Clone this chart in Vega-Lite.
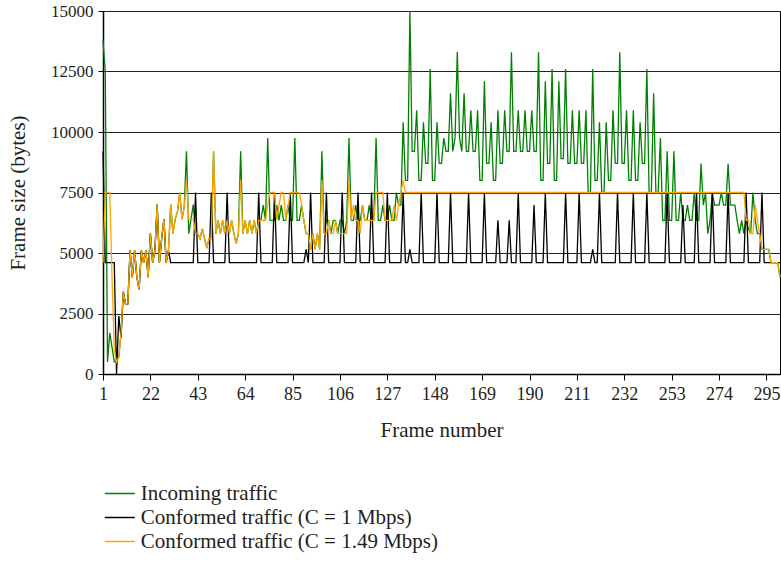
{
"$schema": "https://vega.github.io/schema/vega-lite/v6.json",
"width": 677, "height": 363,
"autosize": {"type": "none"},
"padding": {"left": 103, "top": 11, "right": 1, "bottom": 187},
"background": "white",
"config": {
 "font": "Liberation Serif",
 "view": {"stroke": "#000", "strokeWidth": 1},
 "axis": {"labelFont": "Liberation Serif", "titleFont": "Liberation Serif", "labelColor": "#231f20", "titleColor": "#231f20", "titleFontWeight": "normal", "domainColor": "#000", "tickColor": "#000"},
 "legend": {"labelFont": "Liberation Serif", "labelColor": "#231f20"}
},
"data": {"values": [
{"f":1,"a":13800,"b":9200,"c":4600},{"f":2,"a":12500,"b":4600,"c":7500},{"f":3,"a":500,"b":4600,"c":7500},{"f":4,"a":1700,"b":4600,"c":7500},{"f":5,"a":1100,"b":4600,"c":4000},
{"f":6,"a":500,"b":4600,"c":1000},{"f":7,"a":500,"b":0,"c":500},{"f":8,"a":700,"b":2400,"c":700},{"f":9,"a":1700,"b":1500,"c":1700},{"f":10,"a":3400,"b":3400,"c":3400},
{"f":11,"a":2900,"b":2900,"c":2900},{"f":12,"a":2900,"b":2900,"c":2900},{"f":13,"a":5100,"b":5100,"c":5100},{"f":14,"a":4000,"b":4000,"c":4000},{"f":15,"a":5100,"b":5100,"c":5100},
{"f":16,"a":4000,"b":4000,"c":4000},{"f":17,"a":3500,"b":3500,"c":3500},{"f":18,"a":5100,"b":5100,"c":5100},{"f":19,"a":4600,"b":4600,"c":4600},{"f":20,"a":5100,"b":5100,"c":5100},
{"f":21,"a":4000,"b":4000,"c":4000},{"f":22,"a":5800,"b":5800,"c":5800},{"f":23,"a":4600,"b":4600,"c":4600},{"f":24,"a":5100,"b":5100,"c":5100},{"f":25,"a":7000,"b":7000,"c":7000},
{"f":26,"a":4600,"b":4600,"c":4600},{"f":27,"a":5600,"b":5600,"c":5600},{"f":28,"a":6400,"b":6400,"c":6400},{"f":29,"a":4600,"b":4600,"c":4600},{"f":30,"a":5100,"b":5100,"c":5100},
{"f":31,"a":7000,"b":4600,"c":7000},{"f":32,"a":5800,"b":4600,"c":5800},{"f":33,"a":6400,"b":4600,"c":6400},{"f":34,"a":6700,"b":4600,"c":6700},{"f":35,"a":7500,"b":4600,"c":7500},
{"f":36,"a":6400,"b":4600,"c":6400},{"f":37,"a":6900,"b":4600,"c":6900},{"f":38,"a":9200,"b":4600,"c":8000},{"f":39,"a":5800,"b":4600,"c":6400},{"f":40,"a":6400,"b":4600,"c":6400},
{"f":41,"a":7000,"b":4600,"c":6400},{"f":42,"a":5800,"b":7500,"c":5800},{"f":43,"a":5800,"b":4600,"c":5800},{"f":44,"a":5600,"b":4600,"c":5600},{"f":45,"a":6000,"b":4600,"c":6000},
{"f":46,"a":5600,"b":4600,"c":5600},{"f":47,"a":5200,"b":4600,"c":5200},{"f":48,"a":5600,"b":4600,"c":5600},{"f":49,"a":5600,"b":7500,"c":5600},{"f":50,"a":9200,"b":4600,"c":9200},
{"f":51,"a":5800,"b":4600,"c":5800},{"f":52,"a":6350,"b":4600,"c":6350},{"f":53,"a":5800,"b":4600,"c":5800},{"f":54,"a":6350,"b":4600,"c":6350},{"f":55,"a":5800,"b":4600,"c":5800},
{"f":56,"a":6350,"b":7500,"c":6350},{"f":57,"a":5800,"b":4600,"c":5800},{"f":58,"a":6350,"b":4600,"c":6350},{"f":59,"a":5800,"b":4600,"c":5800},{"f":60,"a":5400,"b":4600,"c":5400},
{"f":61,"a":5800,"b":4600,"c":5800},{"f":62,"a":9200,"b":4600,"c":8000},{"f":63,"a":5800,"b":4600,"c":5800},{"f":64,"a":6350,"b":4600,"c":6350},{"f":65,"a":5800,"b":4600,"c":5800},
{"f":66,"a":6350,"b":4600,"c":6350},{"f":67,"a":5800,"b":4600,"c":5800},{"f":68,"a":6350,"b":4600,"c":6350},{"f":69,"a":5800,"b":4600,"c":5800},{"f":70,"a":6350,"b":7500,"c":6350},
{"f":71,"a":6350,"b":4600,"c":6350},{"f":72,"a":6980,"b":4600,"c":6350},{"f":73,"a":6350,"b":4600,"c":6350},{"f":74,"a":9750,"b":4600,"c":7000},{"f":75,"a":6350,"b":4600,"c":7500},
{"f":76,"a":6350,"b":4600,"c":7500},{"f":77,"a":6350,"b":7500,"c":7500},{"f":78,"a":6980,"b":4600,"c":6350},{"f":79,"a":6350,"b":4600,"c":6980},{"f":80,"a":6980,"b":4600,"c":7500},
{"f":81,"a":6350,"b":4600,"c":7500},{"f":82,"a":6350,"b":4600,"c":6350},{"f":83,"a":6980,"b":4600,"c":6980},{"f":84,"a":6350,"b":7500,"c":7500},{"f":85,"a":6350,"b":4600,"c":7500},
{"f":86,"a":9750,"b":4600,"c":7500},{"f":87,"a":6350,"b":4600,"c":7500},{"f":88,"a":6350,"b":4600,"c":7500},{"f":89,"a":6980,"b":4600,"c":6980},{"f":90,"a":6350,"b":4600,"c":6350},
{"f":91,"a":5800,"b":5150,"c":5800},{"f":92,"a":5800,"b":4600,"c":5800},{"f":93,"a":5150,"b":7500,"c":5150},{"f":94,"a":5800,"b":4600,"c":5800},{"f":95,"a":5150,"b":4600,"c":5150},
{"f":96,"a":5800,"b":4600,"c":5800},{"f":97,"a":5150,"b":4600,"c":5150},{"f":98,"a":9200,"b":4600,"c":8000},{"f":99,"a":5800,"b":4600,"c":5800},{"f":100,"a":6350,"b":7500,"c":5800},
{"f":101,"a":6350,"b":4600,"c":6350},{"f":102,"a":5800,"b":4600,"c":5800},{"f":103,"a":6350,"b":4600,"c":5800},{"f":104,"a":6350,"b":4600,"c":6350},{"f":105,"a":5800,"b":4600,"c":5800},
{"f":106,"a":6350,"b":4600,"c":5800},{"f":107,"a":6350,"b":7500,"c":5800},{"f":108,"a":5800,"b":4600,"c":5800},{"f":109,"a":6350,"b":4600,"c":5800},{"f":110,"a":9750,"b":4600,"c":8000},
{"f":111,"a":6350,"b":4600,"c":6350},{"f":112,"a":6350,"b":4600,"c":6980},{"f":113,"a":6980,"b":4600,"c":6350},{"f":114,"a":6350,"b":7500,"c":6350},{"f":115,"a":6350,"b":4600,"c":5800},
{"f":116,"a":6980,"b":4600,"c":6980},{"f":117,"a":6350,"b":4600,"c":6350},{"f":118,"a":6350,"b":4600,"c":6350},{"f":119,"a":6980,"b":4600,"c":6350},{"f":120,"a":6350,"b":7500,"c":6350},
{"f":121,"a":6350,"b":4600,"c":6350},{"f":122,"a":9750,"b":4600,"c":7500},{"f":123,"a":6350,"b":4600,"c":7500},{"f":124,"a":6350,"b":4600,"c":7500},{"f":125,"a":6980,"b":4600,"c":7500},
{"f":126,"a":6350,"b":4600,"c":6350},{"f":127,"a":6350,"b":7500,"c":6350},{"f":128,"a":6980,"b":4600,"c":6350},{"f":129,"a":6350,"b":4600,"c":6350},{"f":130,"a":6350,"b":4600,"c":6980},
{"f":131,"a":7500,"b":4600,"c":6350},{"f":132,"a":6980,"b":4600,"c":6980},{"f":133,"a":6980,"b":4600,"c":7500},{"f":134,"a":10400,"b":7500,"c":8000},{"f":135,"a":8000,"b":4600,"c":7500},
{"f":136,"a":8000,"b":4600,"c":7500},{"f":137,"a":15000,"b":5150,"c":7500},{"f":138,"a":9200,"b":4600,"c":7500},{"f":139,"a":9200,"b":4600,"c":7500},{"f":140,"a":10900,"b":4600,"c":7500},
{"f":141,"a":8000,"b":4600,"c":7500},{"f":142,"a":8000,"b":7500,"c":7500},{"f":143,"a":10400,"b":4600,"c":7500},{"f":144,"a":8700,"b":4600,"c":7500},{"f":145,"a":8700,"b":4600,"c":7500},
{"f":146,"a":12600,"b":4600,"c":7500},{"f":147,"a":8000,"b":4600,"c":7500},{"f":148,"a":8000,"b":4600,"c":7500},{"f":149,"a":10400,"b":7500,"c":7500},{"f":150,"a":8700,"b":4600,"c":7500},
{"f":151,"a":8700,"b":4600,"c":7500},{"f":152,"a":9750,"b":4600,"c":7500},{"f":153,"a":9200,"b":4600,"c":7500},{"f":154,"a":9200,"b":4600,"c":7500},{"f":155,"a":11600,"b":7500,"c":7500},
{"f":156,"a":9200,"b":4600,"c":7500},{"f":157,"a":9750,"b":4600,"c":7500},{"f":158,"a":13300,"b":4600,"c":7500},{"f":159,"a":9750,"b":4600,"c":7500},{"f":160,"a":9200,"b":4600,"c":7500},
{"f":161,"a":11600,"b":4600,"c":7500},{"f":162,"a":9200,"b":4600,"c":7500},{"f":163,"a":9200,"b":7500,"c":7500},{"f":164,"a":10900,"b":4600,"c":7500},{"f":165,"a":9200,"b":4600,"c":7500},
{"f":166,"a":9200,"b":4600,"c":7500},{"f":167,"a":10900,"b":4600,"c":7500},{"f":168,"a":8000,"b":4600,"c":7500},{"f":169,"a":8000,"b":4600,"c":7500},{"f":170,"a":12100,"b":7500,"c":7500},
{"f":171,"a":8700,"b":4600,"c":7500},{"f":172,"a":8700,"b":4600,"c":7500},{"f":173,"a":10400,"b":4600,"c":7500},{"f":174,"a":8000,"b":4600,"c":7500},{"f":175,"a":8000,"b":4600,"c":7500},
{"f":176,"a":10900,"b":6350,"c":7500},{"f":177,"a":8700,"b":4600,"c":7500},{"f":178,"a":8700,"b":4600,"c":7500},{"f":179,"a":10900,"b":4600,"c":7500},{"f":180,"a":9200,"b":4600,"c":7500},
{"f":181,"a":9200,"b":6350,"c":7500},{"f":182,"a":13300,"b":4600,"c":7500},{"f":183,"a":9200,"b":4600,"c":7500},{"f":184,"a":9200,"b":4600,"c":7500},{"f":185,"a":10900,"b":7500,"c":7500},
{"f":186,"a":9200,"b":4600,"c":7500},{"f":187,"a":9200,"b":4600,"c":7500},{"f":188,"a":10900,"b":4600,"c":7500},{"f":189,"a":9200,"b":4600,"c":7500},{"f":190,"a":9200,"b":4600,"c":7500},
{"f":191,"a":10900,"b":4600,"c":7500},{"f":192,"a":9200,"b":6980,"c":7500},{"f":193,"a":9200,"b":4600,"c":7500},{"f":194,"a":13300,"b":4600,"c":7500},{"f":195,"a":8000,"b":4600,"c":7500},
{"f":196,"a":8000,"b":4600,"c":7500},{"f":197,"a":12100,"b":7500,"c":7500},{"f":198,"a":8700,"b":4600,"c":7500},{"f":199,"a":8700,"b":4600,"c":7500},{"f":200,"a":12600,"b":4600,"c":7500},
{"f":201,"a":8000,"b":4600,"c":7500},{"f":202,"a":8000,"b":4600,"c":7500},{"f":203,"a":12100,"b":4600,"c":7500},{"f":204,"a":8900,"b":4600,"c":7500},{"f":205,"a":8900,"b":4600,"c":7500},
{"f":206,"a":12600,"b":7500,"c":7500},{"f":207,"a":8700,"b":4600,"c":7500},{"f":208,"a":8700,"b":4600,"c":7500},{"f":209,"a":10900,"b":4600,"c":7500},{"f":210,"a":8700,"b":4600,"c":7500},
{"f":211,"a":8700,"b":4600,"c":7500},{"f":212,"a":10900,"b":7500,"c":7500},{"f":213,"a":8700,"b":4600,"c":7500},{"f":214,"a":8700,"b":4600,"c":7500},{"f":215,"a":10900,"b":4600,"c":7500},
{"f":216,"a":7500,"b":4600,"c":7500},{"f":217,"a":7500,"b":4600,"c":7500},{"f":218,"a":12600,"b":5150,"c":7500},{"f":219,"a":8000,"b":4600,"c":7500},{"f":220,"a":8000,"b":4600,"c":7500},
{"f":221,"a":10400,"b":7500,"c":7500},{"f":222,"a":7500,"b":4600,"c":7500},{"f":223,"a":7500,"b":4600,"c":7500},{"f":224,"a":10400,"b":4600,"c":7500},{"f":225,"a":8000,"b":4600,"c":7500},
{"f":226,"a":8000,"b":4600,"c":7500},{"f":227,"a":10900,"b":4600,"c":7500},{"f":228,"a":8700,"b":4600,"c":7500},{"f":229,"a":8700,"b":7500,"c":7500},{"f":230,"a":13300,"b":4600,"c":7500},
{"f":231,"a":8700,"b":4600,"c":7500},{"f":232,"a":8700,"b":4600,"c":7500},{"f":233,"a":10900,"b":4600,"c":7500},{"f":234,"a":8000,"b":4600,"c":7500},{"f":235,"a":8000,"b":4600,"c":7500},
{"f":236,"a":10900,"b":7500,"c":7500},{"f":237,"a":8000,"b":4600,"c":7500},{"f":238,"a":8000,"b":4600,"c":7500},{"f":239,"a":10400,"b":4600,"c":7500},{"f":240,"a":8700,"b":4600,"c":7500},
{"f":241,"a":8700,"b":4600,"c":7500},{"f":242,"a":12600,"b":7500,"c":7500},{"f":243,"a":7500,"b":4600,"c":7500},{"f":244,"a":7500,"b":4600,"c":7500},{"f":245,"a":11600,"b":4600,"c":7500},
{"f":246,"a":7500,"b":4600,"c":7500},{"f":247,"a":7500,"b":4600,"c":7500},{"f":248,"a":9750,"b":4600,"c":7500},{"f":249,"a":6350,"b":4600,"c":7500},{"f":250,"a":6350,"b":4600,"c":7500},
{"f":251,"a":9200,"b":7500,"c":7500},{"f":252,"a":6350,"b":4600,"c":7500},{"f":253,"a":6350,"b":4600,"c":7500},{"f":254,"a":9200,"b":4600,"c":7500},{"f":255,"a":6350,"b":4600,"c":7500},
{"f":256,"a":6350,"b":4600,"c":7500},{"f":257,"a":7500,"b":4600,"c":7500},{"f":258,"a":6350,"b":6980,"c":7500},{"f":259,"a":6350,"b":4600,"c":7500},{"f":260,"a":6980,"b":4600,"c":7500},
{"f":261,"a":6350,"b":4600,"c":7500},{"f":262,"a":6350,"b":4600,"c":7500},{"f":263,"a":7500,"b":4600,"c":7500},{"f":264,"a":6350,"b":7500,"c":7500},{"f":265,"a":6350,"b":4600,"c":7500},
{"f":266,"a":8700,"b":4600,"c":7500},{"f":267,"a":6980,"b":4600,"c":7500},{"f":268,"a":7500,"b":4600,"c":7500},{"f":269,"a":5800,"b":4600,"c":7500},{"f":270,"a":6350,"b":4600,"c":7500},
{"f":271,"a":7500,"b":7500,"c":7500},{"f":272,"a":6980,"b":4600,"c":7500},{"f":273,"a":6980,"b":4600,"c":7500},{"f":274,"a":6980,"b":4600,"c":7500},{"f":275,"a":7500,"b":4600,"c":7500},
{"f":276,"a":6980,"b":4600,"c":7500},{"f":277,"a":6980,"b":4600,"c":7500},{"f":278,"a":8700,"b":7500,"c":7500},{"f":279,"a":6980,"b":4600,"c":7500},{"f":280,"a":6980,"b":4600,"c":7500},
{"f":281,"a":6980,"b":4600,"c":7500},{"f":282,"a":6350,"b":4600,"c":7500},{"f":283,"a":5800,"b":4600,"c":7500},{"f":284,"a":6350,"b":4600,"c":7500},{"f":285,"a":5800,"b":4600,"c":7500},
{"f":286,"a":6350,"b":7500,"c":6350},{"f":287,"a":6000,"b":4600,"c":6350},{"f":288,"a":5800,"b":4600,"c":5800},{"f":289,"a":7500,"b":4600,"c":5800},{"f":290,"a":6350,"b":4600,"c":6980},
{"f":291,"a":5800,"b":4600,"c":6350},{"f":292,"a":5800,"b":4600,"c":5800},{"f":293,"a":5150,"b":7500,"c":5150},{"f":294,"a":5150,"b":4600,"c":5150},{"f":295,"a":5150,"b":4600,"c":5150},
{"f":296,"a":5150,"b":4600,"c":5150},{"f":297,"a":4600,"b":4600,"c":4600},{"f":298,"a":4600,"b":4600,"c":4600},{"f":299,"a":4600,"b":4600,"c":4600},{"f":300,"a":4600,"b":4600,"c":4600},
{"f":301,"a":4000,"b":4600,"c":4000}
]},
"transform": [{"fold": ["a", "b", "c"], "as": ["k", "v"]}],
"mark": {"type": "line", "strokeWidth": 1.3},
"encoding": {
 "x": {"field": "f", "type": "quantitative",
  "scale": {"domain": [1, 301], "nice": false, "zero": false},
  "axis": {"values": [1,22,43,64,85,106,127,148,169,190,211,232,253,274,295], "grid": false, "title": "Frame number",
   "labelFontSize": 18, "titleFontSize": 21, "tickSize": 6, "labelPadding": 5, "labelFlush": false, "labelOverlap": false,
   "titleY": 56, "titleBaseline": "middle", "domainWidth": 1.5}},
 "y": {"field": "v", "type": "quantitative",
  "scale": {"domain": [0, 15000], "nice": false},
  "axis": {"values": [0,2500,5000,7500,10000,12500,15000], "format": "d", "grid": true, "gridColor": "#222", "gridWidth": 1,
   "title": "Frame size (bytes)", "labelFontSize": 17, "titleFontSize": 21, "tickSize": 5, "labelPadding": 5,
   "titleAngle": 270, "titleX": -85, "titleY": 181.5, "titleAlign": "center", "titleBaseline": "middle", "domainWidth": 1.5}},
 "color": {"field": "k", "type": "nominal",
  "scale": {"domain": ["a", "b", "c"], "range": ["#008000", "#000000", "#FFA500"]},
  "legend": {"orient": "none", "legendX": 2, "legendY": 472, "title": null, "symbolType": "M-2,0H2", "symbolSize": 225, "symbolStrokeWidth": 1.5,
   "symbolOffset": 4.25, "labelFontSize": 21, "labelOffset": 10.5, "labelLimit": 0, "rowPadding": 2, "padding": 0,
   "labelExpr": "datum.label == 'a' ? 'Incoming traffic' : datum.label == 'b' ? 'Conformed traffic (C = 1 Mbps)' : 'Conformed traffic (C = 1.49 Mbps)'"}}
}
}
